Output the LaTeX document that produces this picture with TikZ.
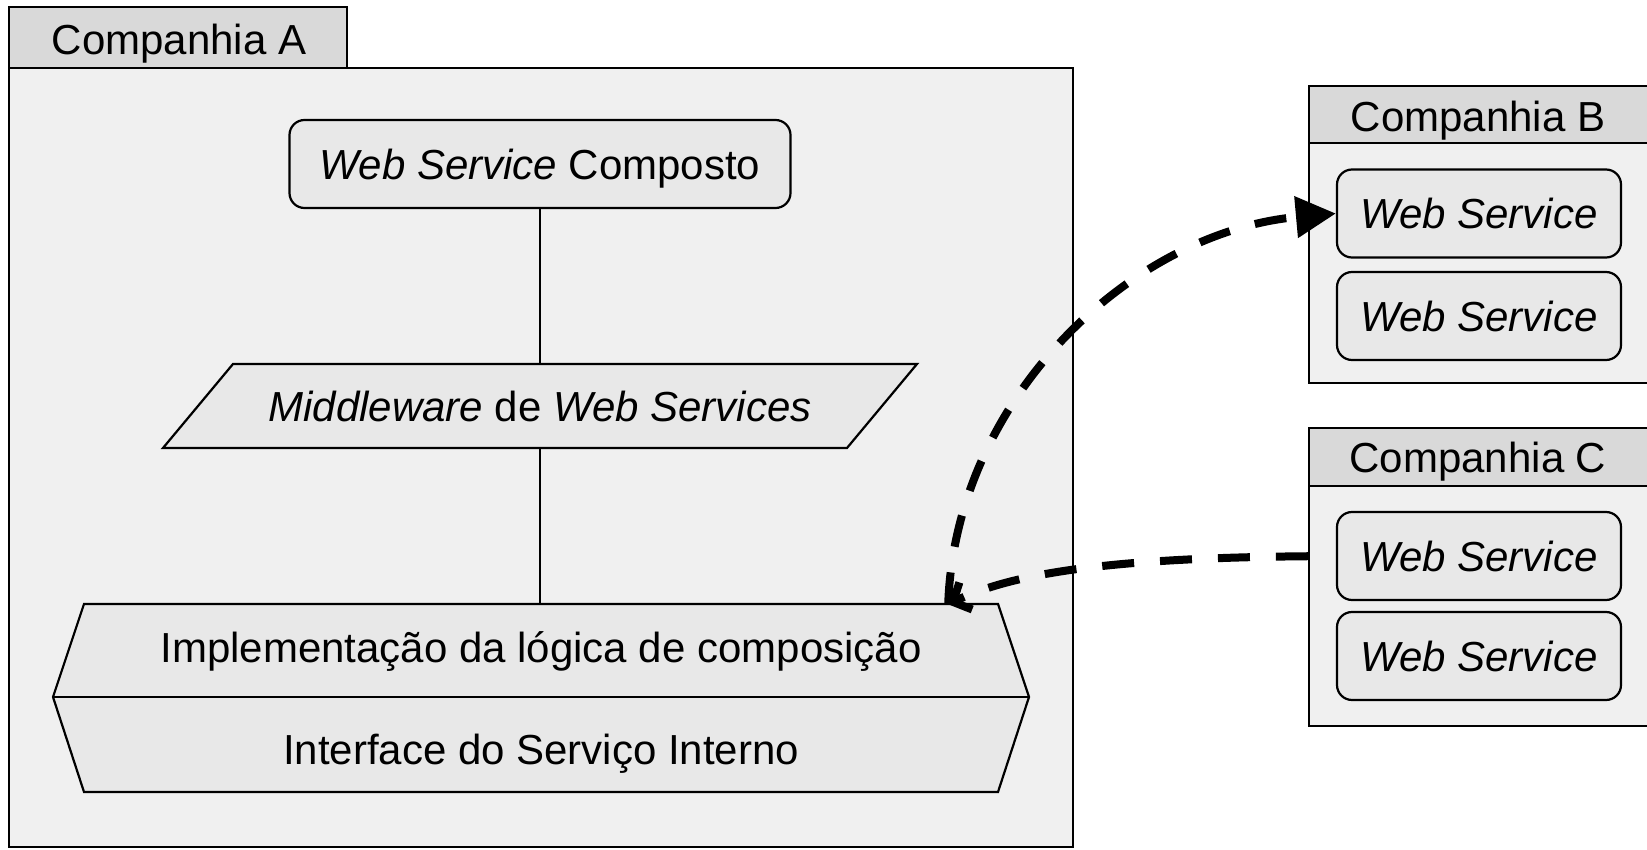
\documentclass[tikz,border=0pt]{standalone}
\usepackage{fontspec}
\setmainfont{Liberation Sans}
\usetikzlibrary{arrows.meta}

\definecolor{tabgray}{HTML}{D9D9D9}
\definecolor{boxbg}{HTML}{F0F0F0}
\definecolor{shapebg}{HTML}{E8E8E8}

\tikzset{
  labeltext/.style={font=\fontsize{42}{50}\selectfont},
  frame/.style={line width=2.2pt},
  wsbox/.style={draw,frame,fill=shapebg,rounded corners=15pt,
    minimum width=284pt,minimum height=88pt,inner sep=0pt,
    text height=31pt,text depth=0pt,labeltext},
  flow/.style={line width=8pt,dash pattern=on 32pt off 26pt},
}

\begin{document}
\begin{tikzpicture}[x=1pt,y=-1pt,labeltext]
    \useasboundingbox (0,0) rectangle (1647,850);
    % Companhia A
        \draw[frame,fill=boxbg] (9,68) rectangle (1073,847);
        \draw[frame,fill=tabgray] (9,7) rectangle (347,68);
        \node (compA) at (179,44) {Companhia A};
        \node[wsbox,minimum width=501pt] (wsc) at (540,164) {\textit{Web Service} Composto};
        \draw[frame,fill=shapebg] (233,364) -- (917,364) -- (847,448) -- (163,448) -- cycle;
        \node[minimum width=684pt,minimum height=84pt,inner sep=0pt] (mw) at (540,406) {\textit{Middleware} de \textit{Web Services}};
        \draw[frame,fill=shapebg] (84,604) -- (998,604) -- (1029,697) -- (998,792) -- (84,792) -- (53,697) -- cycle;
        \draw[frame] (53,697) -- (1029,697);
        \node[minimum width=914pt,minimum height=93pt,inner sep=0pt] (impl) at (541,651) {Implementação da lógica de composição};
        \node[minimum width=914pt,minimum height=95pt,inner sep=0pt] (iface) at (541,754) {Interface do Serviço Interno};
        \draw[line width=1.2pt] (wsc.south) -- (mw.north);
        \draw[line width=1.2pt] (mw.south) -- (mw.south |- impl.north);
    % Companhia B
        \draw[frame,fill=boxbg] (1309,143) rectangle (1660,383);
        \draw[frame,fill=tabgray] (1309,86) rectangle (1660,143);
        \node (compB) at (1478,121) {Companhia B};
        \node[wsbox] (bws1) at (1479,213.5) {\textit{Web Service}};
        \node[wsbox] (bws2) at (1479,316) {\textit{Web Service}};
    % Companhia C
        \draw[frame,fill=boxbg] (1309,486) rectangle (1660,726);
        \draw[frame,fill=tabgray] (1309,428) rectangle (1660,486);
        \node (compC) at (1478,462) {Companhia C};
        \node[wsbox] (cws1) at (1479,556) {\textit{Web Service}};
        \node[wsbox] (cws2) at (1479,656) {\textit{Web Service}};
    % chamadas externas
        \draw[flow,shorten <=28pt,-{Straight Barb[length=14pt,width=30pt]}] (cws1.west) .. controls (1100,558) and (1010,575) .. ([xshift=-50pt]impl.north east);
        \draw[flow,-{Triangle[length=40pt,width=40pt]}] ([xshift=-50pt]impl.north east) .. controls (955,400) and (1130,232) .. (bws1.west);
\end{tikzpicture}
\end{document}
